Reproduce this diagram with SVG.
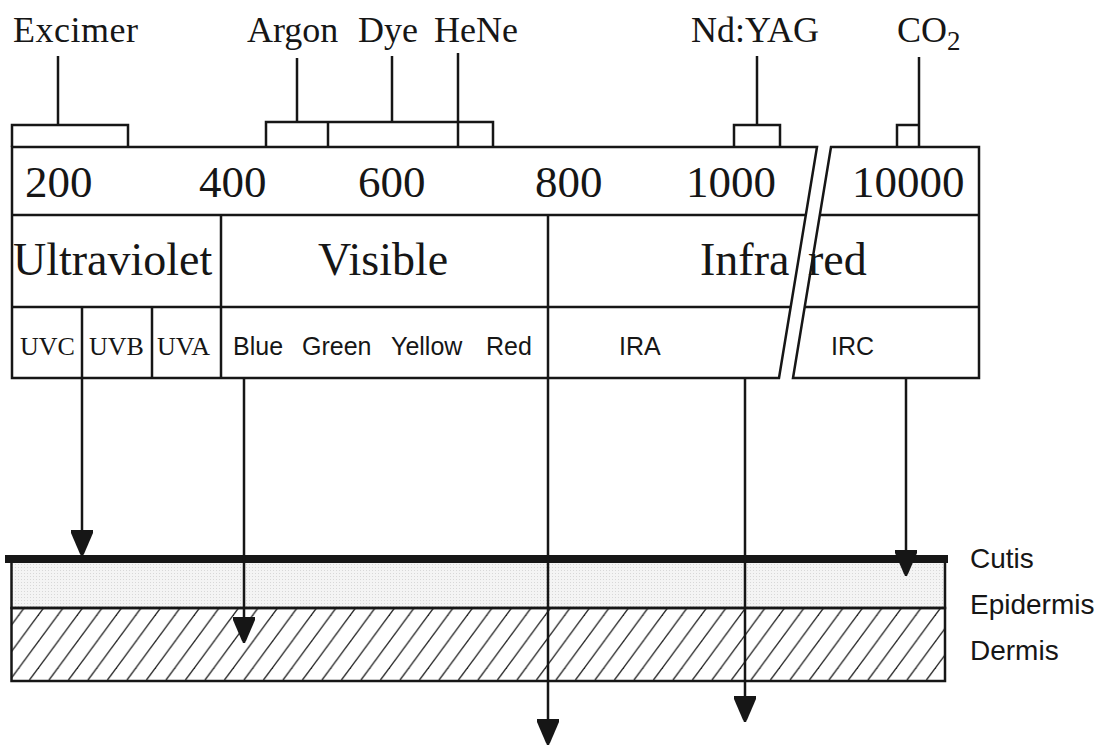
<svg xmlns="http://www.w3.org/2000/svg" width="1102" height="746" viewBox="0 0 1102 746">
<style>
.ln{stroke:#161616;stroke-width:2.5;fill:none;stroke-linecap:butt}
.bx{stroke:#161616;stroke-width:2.5;fill:#fff;stroke-linejoin:miter}
.t{font-family:"Liberation Serif","Times New Roman",serif;fill:#161616}
.s{font-family:"Liberation Sans",Arial,sans-serif;fill:#161616}
.top{font-size:36px}
.num{font-size:45px}
.band{font-size:46px}
.uv{font-size:26px}
.col{font-size:25px}
.skin{font-size:28px}
</style>
<defs>
<marker id="ah" viewBox="0 0 26 22" refX="26" refY="11" markerWidth="26" markerHeight="22" markerUnits="userSpaceOnUse" orient="auto">
<path d="M0,0 L3,0 L24,9 L26,11 L24,13 L3,22 L0,22 Z" fill="#161616"/>
</marker>
<pattern id="hatch" patternUnits="userSpaceOnUse" width="19.5" height="72" x="0" y="608">
<line x1="-29" y1="72" x2="24" y2="0" stroke="#2a2a2a" stroke-width="1.4"/>
<line x1="-9.5" y1="72" x2="43.5" y2="0" stroke="#2a2a2a" stroke-width="1.4"/>
<line x1="10" y1="72" x2="63" y2="0" stroke="#2a2a2a" stroke-width="1.4"/>
<line x1="-48.5" y1="72" x2="4.5" y2="0" stroke="#2a2a2a" stroke-width="1.4"/>
</pattern>
<pattern id="dots" patternUnits="userSpaceOnUse" width="3" height="3">
<rect width="3" height="3" fill="#f4f4f4"/>
<rect width="1" height="1" fill="#d8d8d8"/>
</pattern>
</defs>
<rect width="1102" height="746" fill="#fff"/>

<g id="lasers">
<g id="excimer">
<text class="t top" x="13" y="42" textLength="125">Excimer</text>
<line class="ln" x1="58" y1="56" x2="58" y2="125"/>
<polyline class="ln" points="12,147 12,125 128,125 128,147"/>
</g>
<g id="argon">
<text class="t top" x="247" y="42">Argon</text>
<line class="ln" x1="297" y1="58" x2="297" y2="122"/>
<polyline class="ln" points="266,147 266,122 493,122 493,147"/>
<line class="ln" x1="328" y1="122" x2="328" y2="147"/>
</g>
<g id="dye">
<text class="t top" x="358" y="42">Dye</text>
<line class="ln" x1="392" y1="56" x2="392" y2="122"/>
</g>
<g id="hene">
<text class="t top" x="434" y="42">HeNe</text>
<line class="ln" x1="458" y1="53" x2="458" y2="147"/>
</g>
<g id="ndyag">
<text class="t top" x="691" y="42">Nd:YAG</text>
<line class="ln" x1="757" y1="56" x2="757" y2="125"/>
<polyline class="ln" points="734,147 734,125 780,125 780,147"/>
</g>
<g id="co2">
<text class="t top" x="897" y="42">CO<tspan font-size="27" dy="8">2</tspan></text>
<line class="ln" x1="919" y1="57" x2="919" y2="147"/>
<polyline class="ln" points="897,147 897,125 919,125"/>
</g>
</g>

<g id="spectrum-left">
<polygon class="bx" points="12,147 817,147 779,378 12,378"/>
<line class="ln" x1="12" y1="215" x2="806" y2="215"/>
<line class="ln" x1="12" y1="307" x2="791" y2="307"/>
<line class="ln" x1="221" y1="215" x2="221" y2="378"/>
<line class="ln" x1="82" y1="307" x2="82" y2="378"/>
<line class="ln" x1="152" y1="307" x2="152" y2="378"/>
<text class="t num" x="25" y="197">200</text>
<text class="t num" x="199" y="197">400</text>
<text class="t num" x="358" y="197">600</text>
<text class="t num" x="535" y="197">800</text>
<text class="t num" x="686" y="197">1000</text>
<text class="t band" x="13" y="275">Ultraviolet</text>
<text class="t band" x="318" y="275">Visible</text>
<text class="t band" x="700" y="275">Infra</text>
<text class="t uv" x="20" y="355">UVC</text>
<text class="t uv" x="89" y="355">UVB</text>
<text class="t uv" x="157" y="355">UVA</text>
<text class="s col" x="233" y="355">Blue</text>
<text class="s col" x="302" y="355">Green</text>
<text class="s col" x="391" y="355">Yellow</text>
<text class="s col" x="486" y="355">Red</text>
<text class="s col" x="619" y="355">IRA</text>
</g>

<g id="spectrum-right">
<polygon class="bx" points="831,147 979,147 979,378 793,378" style="fill:none"/>
<line class="ln" x1="820" y1="215" x2="979" y2="215"/>
<line class="ln" x1="805" y1="307" x2="979" y2="307"/>
<text class="t num" x="852" y="197">10000</text>
<text class="t band" x="808" y="275">red</text>
<text class="s col" x="831" y="355">IRC</text>
</g>

<g id="skin">
<rect x="11.5" y="559" width="933.5" height="49" fill="url(#dots)" stroke="#161616" stroke-width="2.5"/>
<rect x="11.5" y="608" width="933.5" height="73" fill="url(#hatch)" stroke="#161616" stroke-width="2.5"/>
<line x1="5" y1="559" x2="948" y2="559" stroke="#161616" stroke-width="8"/>
<text class="s skin" x="970" y="568">Cutis</text>
<text class="s skin" x="970" y="614">Epidermis</text>
<text class="s skin" x="970" y="660">Dermis</text>
</g>

<g id="connectors">
<line class="ln" x1="82" y1="378" x2="82" y2="556" marker-end="url(#ah)"/>
<line class="ln" x1="244" y1="378" x2="244" y2="643" marker-end="url(#ah)"/>
<line class="ln" x1="548" y1="215" x2="548" y2="745" marker-end="url(#ah)"/>
<line class="ln" x1="745" y1="378" x2="745" y2="722" marker-end="url(#ah)"/>
<line class="ln" x1="906" y1="378" x2="906" y2="576" marker-end="url(#ah)"/>
</g>
</svg>
